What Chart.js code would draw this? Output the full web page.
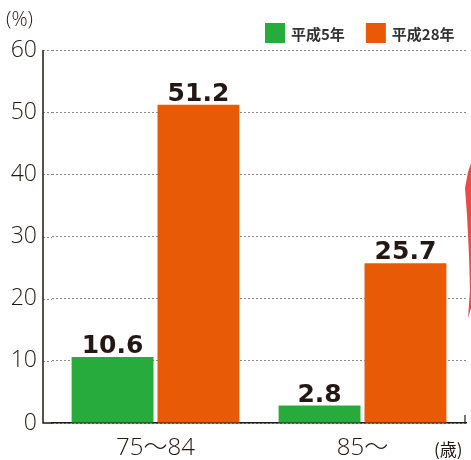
<!DOCTYPE html>
<html>
<head>
<meta charset="utf-8">
<script src="https://cdn.jsdelivr.net/npm/chart.js@4/dist/chart.umd.min.js"></script>
<style>
  html, body { margin: 0; padding: 0; background: #fff; }
  #wrap { width: 471px; height: 460px; }
</style>
</head>
<body>
<div id="wrap"><canvas id="ageChart"></canvas></div>
<script>
// data
const categories = ['75〜84', '85〜'];
const seriesNames = ['平成5年', '平成28年'];
const heisei5 = [10.6, 2.8];
const heisei28 = [51.2, 25.7];
const yTicks = [0, 10, 20, 30, 40, 50, 60];

const GREEN = '#27ab3c';
const ORANGE = '#e85a06';
const INK = '#231815';
const AXIS_X = 43; // the y axis line sits a bit left of the plot area

// value labels above the bars
const valueLabels = {
    id: 'valueLabels',
    afterDatasetsDraw(chart) {
        const ctx = chart.ctx;
        ctx.save();
        ctx.font = 'bold 25px "DejaVu Sans"';
        ctx.fillStyle = INK;
        ctx.textAlign = 'center';
        ctx.textBaseline = 'alphabetic';
        chart.data.datasets.forEach((ds, i) => {
            chart.getDatasetMeta(i).data.forEach((bar, j) => {
                ctx.fillText(ds.data[j].toFixed(1), bar.x, bar.y - 4);
            });
        });
        ctx.restore();
    }
};

// axis line, legend, units and extras
const decorations = {
    id: 'decorations',
    afterDraw(chart) {
        const ctx = chart.ctx;
        const area = chart.chartArea;
        const yScale = chart.scales.y;
        ctx.save();

        // grid lines continued to the axis line
        ctx.strokeStyle = '#8a8a8a';
        ctx.lineWidth = 1;
        ctx.setLineDash([2, 2]);
        yTicks.slice(1).forEach(v => {
            const y = Math.round(yScale.getPixelForValue(v)) + 0.5;
            ctx.beginPath();
            ctx.moveTo(AXIS_X, y);
            ctx.lineTo(area.left, y);
            ctx.stroke();
        });
        ctx.setLineDash([]);

        // axis lines
        ctx.strokeStyle = INK;
        ctx.lineWidth = 1.5;
        ctx.beginPath();
        ctx.moveTo(AXIS_X, area.top);
        ctx.lineTo(AXIS_X, area.bottom);
        ctx.lineTo(area.left, area.bottom);
        ctx.stroke();

        // end tick of the x axis
        ctx.lineWidth = 1.2;
        ctx.beginPath();
        ctx.moveTo(area.right - 1, area.bottom - 8);
        ctx.lineTo(area.right - 1, area.bottom);
        ctx.stroke();

        // legend
        ctx.font = 'bold 15px "Noto Sans CJK JP"';
        ctx.textBaseline = 'middle';
        ctx.textAlign = 'left';
        let x = 265;
        chart.data.datasets.forEach(ds => {
            ctx.fillStyle = ds.backgroundColor;
            ctx.fillRect(x, 23, 20, 20);
            ctx.fillStyle = '#333';
            ctx.fillText(ds.label, x + 26, 34);
            x += 26 + ctx.measureText(ds.label).width + 21;
        });

        // units
        ctx.fillStyle = INK;
        ctx.font = '300 20px "Open Sans"';
        ctx.fillText('(%)', 6, 20);
        ctx.font = '17px "Noto Sans CJK JP"';
        ctx.fillText('(歳)', 434, 450);

        // red shape cut by the right edge
        ctx.fillStyle = '#ea4a4a';
        ctx.beginPath();
        ctx.moveTo(472, 160);
        ctx.lineTo(468, 172);
        ctx.lineTo(465, 188);
        ctx.lineTo(467, 215);
        ctx.lineTo(469, 255);
        ctx.lineTo(470, 290);
        ctx.lineTo(468, 318);
        ctx.lineTo(472, 305);
        ctx.closePath();
        ctx.fill();
        ctx.restore();
    }
};

new Chart(document.getElementById('ageChart').getContext('2d'), {
    type: 'bar',
    data: {
        labels: categories,
        datasets: [{
            label: seriesNames[0],
            backgroundColor: GREEN,
            data: heisei5
        }, {
            label: seriesNames[1],
            backgroundColor: ORANGE,
            data: heisei28
        }]
    },
    options: {
        responsive: true,
        maintainAspectRatio: false,
        animation: false,
        layout: { padding: { top: 50, right: 5, left: 0, bottom: 0 } },
        plugins: {
            legend: { display: false },
            tooltip: { enabled: false }
        },
        datasets: {
            bar: { categoryPercentage: 0.83, barPercentage: 0.953 }
        },
        scales: {
            x: {
                grid: { display: false, drawTicks: false },
                border: { display: true, color: INK, width: 1.5 },
                ticks: {
                    color: INK,
                    padding: 11,
                    font: { family: '"Open Sans", "Noto Sans CJK JP"', size: 24, weight: '300' }
                },
                afterFit(scale) { scale.height = 37; }
            },
            y: {
                min: 0,
                max: 60,
                afterBuildTicks(scale) { scale.ticks = yTicks.map(v => ({ value: v })); },
                grid: { color: '#8a8a8a', lineWidth: 1, drawTicks: false },
                border: { display: false, dash: [2, 2] },
                ticks: {
                    color: INK,
                    padding: 15,
                    font: { family: '"Open Sans"', size: 23, weight: '300' }
                },
                afterFit(scale) { scale.width = 52; }
            }
        }
    },
    plugins: [valueLabels, decorations]
});
</script>
</body>
</html>
